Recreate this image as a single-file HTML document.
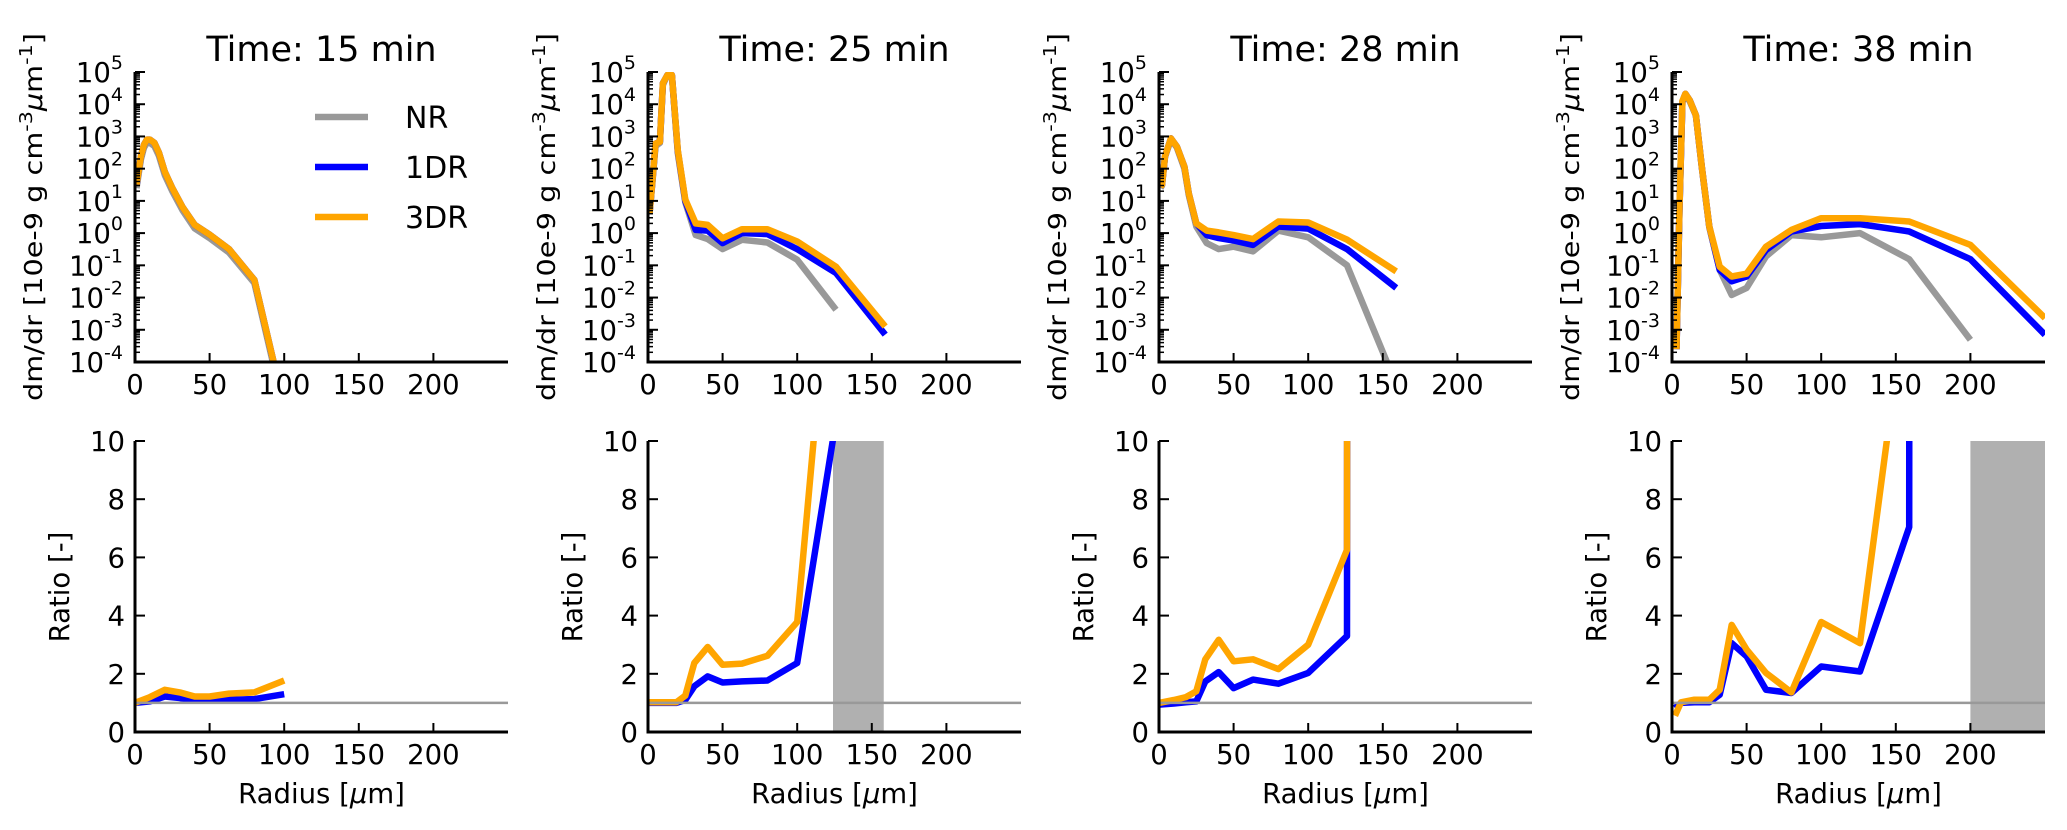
<!DOCTYPE html>
<html><head><meta charset="utf-8"><style>
html,body{margin:0;padding:0;background:#fff;}
svg{display:block;font-family:"DejaVu Sans","Liberation Sans",sans-serif;}
</style></head><body>
<svg id="fig" width="2067" height="830" viewBox="0 0 2067 830" xmlns="http://www.w3.org/2000/svg"></svg>
<script>
// ---- data ----
const panelTitles = ["Time: 15 min","Time: 25 min","Time: 28 min","Time: 38 min"];
const xTicks = [0,50,100,150,200];
const logTickExps = [-4,-3,-2,-1,0,1,2,3,4,5];
const ratioTicks = [0,2,4,6,8,10];
const seriesNames = ["NR","1DR","3DR"];
const seriesColors = ["#999999","#0000ff","#ffa500"];

// Panel 1 (15 min)
const p1R = [1,2,4,6,8,10,13,16,20,25,32,40,50,63,80,100];
const p1NR = [25,50,200,450,630,630,500,250,63,20,5,1.4,0.7,0.25,0.028,3e-6];
const p1D1 = [30,63,250,560,800,800,630,316,80,25,6.3,1.8,0.9,0.32,0.035,4e-6];
const p1D3 = [32,63,250,560,800,800,630,316,80,25,6.3,1.8,0.9,0.32,0.035,4e-6];
// Panel 2 (25 min)
const p2R = [1,3,5,8,10,13,16,20,25,32,40,50,63,80,100,126,159];
const p2NR = [4,40,500,630,40000,80000,80000,300,9,0.87,0.65,0.32,0.62,0.51,0.15,0.0042,null];
const p2D1 = [4,45,600,680,45000,80000,80000,350,10,1.26,1.2,0.49,1.0,0.93,0.32,0.058,0.00071];
const p2D3 = [4,45,600,680,45000,80000,80000,370,11,2.0,1.8,0.69,1.32,1.32,0.55,0.091,0.00126];
// Panel 3 (28 min)
const p3R = [1,2,4,8,12,17,20,25,32,40,50,63,80,100,126,159];
const p3NR = [25,30,230,800,450,100,15,1.6,0.49,0.32,0.38,0.27,1.2,0.74,0.1,2e-5];
const p3D1 = [27,32,240,870,480,115,17,2.0,0.87,0.7,0.59,0.43,1.6,1.38,0.32,0.02];
const p3D3 = [27,32,240,870,480,115,17,2.0,1.2,1.05,0.87,0.65,2.3,2.14,0.63,0.065];
// Panel 4 (38 min)
const p4R = [3,5,7,9,12,16,20,25,32,40,50,63,80,100,126,159,200,250];
const p4NR = [2.5e-4,6,12000,20000,12000,4500,110,1.5,0.072,0.012,0.02,0.19,0.87,0.74,1.0,0.155,4.9e-4,null];
const p4D1 = [2.5e-4,6,12000,21000,13000,4500,115,1.6,0.072,0.032,0.045,0.3,1.12,1.66,1.9,1.12,0.155,7e-4];
const p4D3 = [2.5e-4,6.6,12600,21000,13000,4500,115,1.6,0.091,0.045,0.055,0.38,1.26,2.9,2.9,2.3,0.43,0.0023];

// Ratio panels
const q1R = [0,10,20,30,40,50,63,80,100];
const q1D1 = [1.0,1.05,1.22,1.17,1.08,1.08,1.11,1.13,1.3];
const q1D3 = [1.0,1.2,1.45,1.36,1.22,1.22,1.32,1.36,1.77];
const q2R = [0,5,10,19,25,31,40,50,63,80,100,126];
const q2D1 = [1,1,1,1,1.1,1.57,1.91,1.7,1.74,1.77,2.37,10.7];
const q2D3 = [1.02,1.02,1.02,1.02,1.25,2.37,2.92,2.31,2.35,2.62,3.78,18.5];
const q3R = [0,10,18,25,31,40,50,63,80,100,126,126.5];
const q3D1 = [0.94,0.98,1.02,1.05,1.74,2.06,1.51,1.8,1.66,2.03,3.3,50];
const q3D3 = [1.0,1.1,1.2,1.4,2.5,3.17,2.43,2.5,2.16,3.0,6.26,50];
const q4R = [2,6,15,25,32,40,50,63,80,100,126,159,159.5];
const q4D1 = [0.82,1.0,1.02,1.02,1.28,3.05,2.6,1.45,1.34,2.25,2.08,7.04,50];
const q4D3 = [0.56,1.02,1.11,1.11,1.45,3.68,2.83,2.03,1.36,3.78,3.05,15.8,50];
const shadeStart = [null,124,null,200];
const shadeEnd = [null,158,null,250];

const topR = [p1R,p2R,p3R,p4R];
const topVals = [[p1NR,p1D1,p1D3],[p2NR,p2D1,p2D3],[p3NR,p3D1,p3D3],[p4NR,p4D1,p4D3]];
const botR = [q1R,q2R,q3R,q4R];
const botVals = [[q1D1,q1D3],[q2D1,q2D3],[q3D1,q3D3],[q4D1,q4D3]];

// ---- layout ----
const NS = "http://www.w3.org/2000/svg";
const svg = document.getElementById('fig');
const axLeft = [135,648,1159,1672];
const axW = 373;
const topY0 = 72, topY1 = 362;
const botY0 = 441, botY1 = 732;
const TF = 27.5;
function mk(tag, attrs, parent){
  const e = document.createElementNS(NS, tag);
  for (const k in attrs) e.setAttribute(k, attrs[k]);
  (parent||svg).appendChild(e);
  return e;
}
function xs(i, v){ return axLeft[i] + v/250*axW; }
function ylog(v){ return topY1 - (Math.log10(v)+4)/9*(topY1-topY0); }
function ylin(v){ return botY1 - v/10*(botY1-botY0); }

const defs = mk('defs',{});
for (let i=0;i<4;i++){
  const c1 = mk('clipPath',{id:'ct'+i},defs);
  mk('rect',{x:axLeft[i],y:topY0,width:axW,height:topY1-topY0},c1);
  const c2 = mk('clipPath',{id:'cb'+i},defs);
  mk('rect',{x:axLeft[i],y:botY0,width:axW,height:botY1-botY0},c2);
}

for (let i=0;i<4;i++){
  const L = axLeft[i], cx = L + axW/2;
  const gt = mk('g',{});
  
  
  const title = mk('text',{x:cx,y:61,'font-size':35,'text-anchor':'middle',fill:'#000'},gt);
  title.textContent = panelTitles[i];
  
  
  const gs = mk('g',{'clip-path':'url(#ct'+i+')'},gt);
  for (let s=0;s<3;s++){
    const R = topR[i], V = topVals[i][s];
    let d = '';
    let pen = false;
    for (let k=0;k<R.length;k++){
      if (V[k]==null){pen=false;continue;}
      d += (pen?'L':'M') + xs(i,R[k]).toFixed(1)+','+ylog(V[k]).toFixed(1);
      pen = true;
    }
    const p = mk('path',{d:d,fill:'none',stroke:seriesColors[s],'stroke-width':6.5,'stroke-linejoin':'round'},gs);
    
    
  }
  mk('line',{x1:L,y1:topY0,x2:L,y2:topY1+1.5,stroke:'#000','stroke-width':3},gt);
  mk('line',{x1:L-1.5,y1:topY1,x2:L+axW,y2:topY1,stroke:'#000','stroke-width':3},gt);
  for (const e of logTickExps){
    const y = ylog(Math.pow(10,e));
    mk('line',{x1:L,y1:y,x2:L+10,y2:y,stroke:'#000','stroke-width':2},gt);
    if (e<5) for (let m=2;m<10;m++){
      const ym = ylog(m*Math.pow(10,e));
      mk('line',{x1:L,y1:ym,x2:L+5,y2:ym,stroke:'#000','stroke-width':1.5},gt);
    }
    const t = mk('text',{x:L-12,y:y+10,'font-size':TF,'text-anchor':'end',fill:'#000'},gt);
    
    
    const a = mk('tspan',{},t); a.textContent='10';
    const b = mk('tspan',{'font-size':19,dy:-13},t); b.textContent=String(e);
  }
  for (const v of xTicks){
    const x = xs(i,v);
    if (v>0) mk('line',{x1:x,y1:topY1,x2:x,y2:topY1-9,stroke:'#000','stroke-width':2},gt);
    const t = mk('text',{x:x,y:394,'font-size':TF,'text-anchor':'middle',fill:'#000'},gt);
    t.textContent = v;
    
    
  }
  const yt = mk('text',{x:0,y:0,'font-size':25,'text-anchor':'middle',fill:'#000',transform:'translate('+(L-93)+',217) rotate(-90)',textLength:368,lengthAdjust:'spacingAndGlyphs'},gt);
  
  
  yt.innerHTML = 'dm/dr [10e-9 g cm<tspan font-size="18" dy="-10">-3</tspan><tspan dy="10" font-style="italic">μ</tspan>m<tspan font-size="18" dy="-10">-1</tspan><tspan dy="10">]</tspan>';

  const gb = mk('g',{});
  
  
  if (shadeStart[i]!=null){
    const r = mk('rect',{x:xs(i,shadeStart[i]),y:botY0,width:xs(i,shadeEnd[i])-xs(i,shadeStart[i]),height:botY1-botY0,fill:'#b0b0b0'},gb);
    
    
  }
  const gl = mk('g',{'clip-path':'url(#cb'+i+')'},gb);
  for (let s=0;s<2;s++){
    const R = botR[i], V = botVals[i][s];
    let d='';
    for (let k=0;k<R.length;k++) d += (k?'L':'M')+xs(i,R[k]).toFixed(1)+','+ylin(V[k]).toFixed(1);
    const p = mk('path',{d:d,fill:'none',stroke:seriesColors[s+1],'stroke-width':6.5,'stroke-linejoin':'round'},gl);
    
    
  }
  const ref = mk('line',{x1:L,y1:ylin(1),x2:L+axW,y2:ylin(1),stroke:'#999','stroke-width':2.5},gb);
  
  
  mk('line',{x1:L,y1:botY0,x2:L,y2:botY1+1.5,stroke:'#000','stroke-width':3},gb);
  mk('line',{x1:L-1.5,y1:botY1,x2:L+axW,y2:botY1,stroke:'#000','stroke-width':3},gb);
  for (const v of ratioTicks){
    const y = ylin(v);
    mk('line',{x1:L,y1:y,x2:L+10,y2:y,stroke:'#000','stroke-width':2},gb);
    const t = mk('text',{x:L-10,y:y+10,'font-size':TF,'text-anchor':'end',fill:'#000'},gb);
    t.textContent = v;
    
    
  }
  for (const v of xTicks){
    const x = xs(i,v);
    if (v>0) mk('line',{x1:x,y1:botY1,x2:x,y2:botY1-9,stroke:'#000','stroke-width':2},gb);
    const t = mk('text',{x:x,y:764,'font-size':TF,'text-anchor':'middle',fill:'#000'},gb);
    t.textContent = v;
    
    
  }
  const rt = mk('text',{x:0,y:0,'font-size':TF,'text-anchor':'middle',fill:'#000',transform:'translate('+(L-66)+',587) rotate(-90)'},gb);
  rt.textContent = 'Ratio [-]';
  
  
  const xt = mk('text',{x:cx,y:803,'font-size':TF,'text-anchor':'middle',fill:'#000'},gb);
  xt.innerHTML = 'Radius [<tspan font-style="italic">μ</tspan>m]';
  
  
}

const lg = mk('g',{});


for (let s=0;s<3;s++){
  const y = 117 + s*50;
  const ln = mk('line',{x1:315,y1:y,x2:368,y2:y,stroke:seriesColors[s],'stroke-width':6.5},lg);
  
  
  const t = mk('text',{x:405,y:y+11,'font-size':30,fill:'#000'},lg);
  t.textContent = seriesNames[s];
  
  
}
</script>
</body></html>
